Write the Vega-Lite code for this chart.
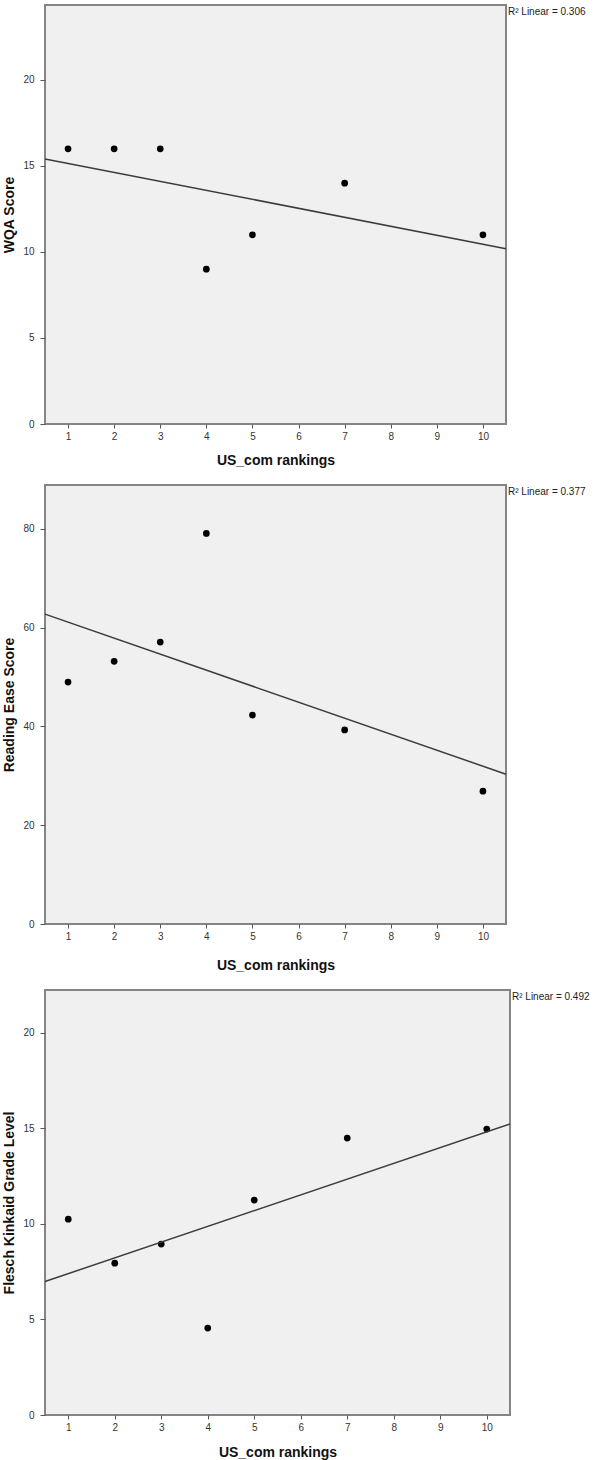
{
  "$schema": "https://vega.github.io/schema/vega-lite/v6.json",
  "padding": {"left": 1, "top": 4, "right": 0, "bottom": 0},
  "background": "white",
  "spacing": 16,
  "config": {
    "font": "Liberation Sans",
    "view": {"fill": "#f0f0f0", "stroke": "#858585", "strokeWidth": 2},
    "axis": {
      "grid": false,
      "domain": false,
      "tickColor": "#555555",
      "tickSize": 5,
      "labelFontSize": 10,
      "labelColor": "#333333",
      "titleFontSize": 14,
      "titleFontWeight": "bold",
      "titleColor": "#111111"
    },
    "axisX": {"tickSize": 4, "labelPadding": 3},
    "axisY": {"labelPadding": 6, "titlePadding": 6}
  },
  "datasets": {
    "rankings": [
      {"rank": 1, "wqa": 16, "reading": 49.0, "fk": 10.25},
      {"rank": 2, "wqa": 16, "reading": 53.2, "fk": 7.95},
      {"rank": 3, "wqa": 16, "reading": 57.1, "fk": 8.95},
      {"rank": 4, "wqa": 9, "reading": 79.1, "fk": 4.55},
      {"rank": 5, "wqa": 11, "reading": 42.3, "fk": 11.25},
      {"rank": 7, "wqa": 14, "reading": 39.3, "fk": 14.5},
      {"rank": 10, "wqa": 11, "reading": 26.9, "fk": 14.97}
    ],
    "r2": [
      {"label": "R² Linear = 0.306"}
    ],
    "r2b": [
      {"label": "R² Linear = 0.377"}
    ],
    "r2c": [
      {"label": "R² Linear = 0.492"}
    ]
  },
  "vconcat": [
    {
      "width": 461,
      "height": 419,
      "layer": [
        {
          "data": {"name": "rankings"},
          "mark": {"type": "circle", "color": "black", "size": 45, "opacity": 1},
          "encoding": {
            "x": {"field": "rank", "type": "quantitative", "scale": {"domain": [0.5, 10.5], "nice": false, "zero": false}, "axis": {"values": [1, 2, 3, 4, 5, 6, 7, 8, 9, 10], "title": "US_com rankings", "titlePadding": 12}},
            "y": {"field": "wqa", "type": "quantitative", "scale": {"domain": [0, 24.36], "nice": false}, "axis": {"values": [0, 5, 10, 15, 20], "title": "WQA Score"}}
          }
        },
        {
          "data": {"name": "rankings"},
          "transform": [{"regression": "wqa", "on": "rank", "extent": [0.5, 10.5]}],
          "mark": {"type": "line", "color": "#3c3c3c", "strokeWidth": 1.5},
          "encoding": {
            "x": {"field": "rank", "type": "quantitative"},
            "y": {"field": "wqa", "type": "quantitative"}
          }
        },
        {
          "data": {"name": "r2"},
          "mark": {"type": "text", "align": "left", "baseline": "top", "dx": 2, "dy": 2, "fontSize": 10, "color": "#222222"},
          "encoding": {
            "x": {"datum": 10.5, "type": "quantitative"},
            "y": {"datum": 24.36, "type": "quantitative"},
            "text": {"field": "label"}
          }
        }
      ]
    },
    {
      "width": 461,
      "height": 439,
      "layer": [
        {
          "data": {"name": "rankings"},
          "mark": {"type": "circle", "color": "black", "size": 45, "opacity": 1},
          "encoding": {
            "x": {"field": "rank", "type": "quantitative", "scale": {"domain": [0.5, 10.5], "nice": false, "zero": false}, "axis": {"values": [1, 2, 3, 4, 5, 6, 7, 8, 9, 10], "title": "US_com rankings", "titlePadding": 17}},
            "y": {"field": "reading", "type": "quantitative", "scale": {"domain": [0, 88.9], "nice": false}, "axis": {"values": [0, 20, 40, 60, 80], "title": "Reading Ease Score"}}
          }
        },
        {
          "data": {"name": "rankings"},
          "transform": [{"regression": "reading", "on": "rank", "extent": [0.5, 10.5]}],
          "mark": {"type": "line", "color": "#3c3c3c", "strokeWidth": 1.5},
          "encoding": {
            "x": {"field": "rank", "type": "quantitative"},
            "y": {"field": "reading", "type": "quantitative"}
          }
        },
        {
          "data": {"name": "r2b"},
          "mark": {"type": "text", "align": "left", "baseline": "top", "dx": 2, "dy": 2, "fontSize": 10, "color": "#222222"},
          "encoding": {
            "x": {"datum": 10.5, "type": "quantitative"},
            "y": {"datum": 88.9, "type": "quantitative"},
            "text": {"field": "label"}
          }
        }
      ]
    },
    {
      "width": 465,
      "height": 425,
      "layer": [
        {
          "data": {"name": "rankings"},
          "mark": {"type": "circle", "color": "black", "size": 45, "opacity": 1},
          "encoding": {
            "x": {"field": "rank", "type": "quantitative", "scale": {"domain": [0.5, 10.5], "nice": false, "zero": false}, "axis": {"values": [1, 2, 3, 4, 5, 6, 7, 8, 9, 10], "title": "US_com rankings", "titlePadding": 13}},
            "y": {"field": "fk", "type": "quantitative", "scale": {"domain": [0, 22.25], "nice": false}, "axis": {"values": [0, 5, 10, 15, 20], "title": "Flesch Kinkaid Grade Level"}}
          }
        },
        {
          "data": {"name": "rankings"},
          "transform": [{"regression": "fk", "on": "rank", "extent": [0.5, 10.5]}],
          "mark": {"type": "line", "color": "#3c3c3c", "strokeWidth": 1.5},
          "encoding": {
            "x": {"field": "rank", "type": "quantitative"},
            "y": {"field": "fk", "type": "quantitative"}
          }
        },
        {
          "data": {"name": "r2c"},
          "mark": {"type": "text", "align": "left", "baseline": "top", "dx": 2, "dy": 2, "fontSize": 10, "color": "#222222"},
          "encoding": {
            "x": {"datum": 10.5, "type": "quantitative"},
            "y": {"datum": 22.25, "type": "quantitative"},
            "text": {"field": "label"}
          }
        }
      ]
    }
  ]
}
